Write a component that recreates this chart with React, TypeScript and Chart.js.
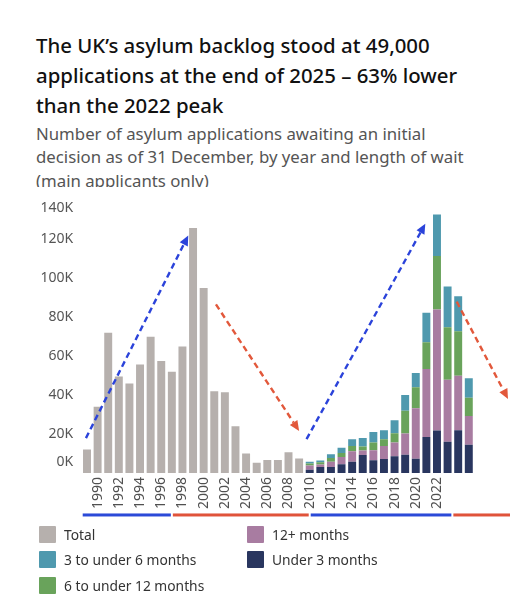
import React, { useEffect, useRef } from "react";
import { Chart, registerables } from "chart.js";

Chart.register(...registerables);

// ---------- DATA ----------
const years = [
  "1989", "1990", "1991", "1992", "1993", "1994", "1995", "1996", "1997", "1998",
  "1999", "2000", "2001", "2002", "2003", "2004", "2005", "2006", "2007", "2008",
  "2009", "2010", "2011", "2012", "2013", "2014", "2015", "2016", "2017", "2018",
  "2019", "2020", "2021", "2022", "2023", "2024", "2025",
];

const xTickLabels = [
  "1990", "1992", "1994", "1996", "1998", "2000", "2002", "2004", "2006", "2008",
  "2010", "2012", "2014", "2016", "2018", "2020", "2022",
];

const yTickValues = [0, 20000, 40000, 60000, 80000, 100000, 120000, 140000];
const yTickLabels = ["0K", "20K", "40K", "60K", "80K", "100K", "120K", "140K"];

// Total backlog, 1989-2009 (no breakdown by length of wait)
const totalYears = years.slice(0, 21);
const totalValues = [
  12000, 34000, 72000, 49500, 46000, 55700, 70000, 57500, 52000, 65000,
  125800, 95000, 42000, 41400, 24000, 10000, 5300, 6700, 6700, 10700, 7400,
];

// Breakdown by length of wait, 2010-2025
const breakdownYears = years.slice(21);
const under3Values = [1700, 3100, 3100, 4500, 5800, 9200, 6500, 7200, 8600, 9300, 7300, 18500, 21800, 16000, 21900, 14500];
const months12PlusValues = [2200, 1200, 2600, 3700, 5400, 2300, 5200, 6600, 7000, 11000, 25900, 34900, 62200, 31900, 28000, 14800];
const months6to12Values = [900, 1200, 2000, 2100, 2600, 2100, 3900, 3500, 4800, 11600, 10800, 13800, 27400, 27000, 22900, 9300];
const months3to6Values = [900, 900, 1900, 2600, 3500, 4300, 5500, 4700, 6700, 8200, 7400, 15100, 21300, 20900, 18000, 10000];

// Dashed trend arrows (fractional year, value)
const arrows = [
  { x1: 1988.9, y1: 17900, x2: 1998.55, y2: 122000, color: "#2b43da" },
  { x1: 2001.16, y1: 86600, x2: 2009.0, y2: 21600, color: "#e2583b" },
  { x1: 2009.7, y1: 17400, x2: 2020.9, y2: 128000, color: "#2b43da" },
  { x1: 2023.86, y1: 88000, x2: 2028.7, y2: 38000, color: "#e2583b" },
];

// Government periods shown under the axis (fractional year)
const periods = [
  { from: 1988.5, to: 1997.0, color: "#2b4ad8" },
  { from: 1997.0, to: 2010.0, color: "#e0533a" },
  { from: 2010.0, to: 2023.45, color: "#2b4ad8" },
  { from: 2023.45, to: 2030.0, color: "#e0533a" },
];

const COLORS = {
  total: "#b6b0ad",
  under3: "#29365f",
  m12: "#a87ca1",
  m6to12: "#69a35b",
  m3to6: "#4f99ae",
};

const seriesLabels = {
  total: "Total",
  under3: "Under 3 months",
  m12: "12+ months",
  m6to12: "6 to under 12 months",
  m3to6: "3 to under 6 months",
};

const legendLayout: (keyof typeof COLORS)[][] = [
  ["total", "m12"],
  ["m3to6", "under3"],
  ["m6to12"],
];

const FONT = '"Noto Sans", "DejaVu Sans", sans-serif';

function spread(srcYears: string[], values: number[]) {
  return years.map((y) => {
    const i = srcYears.indexOf(y);
    return i >= 0 ? values[i] : null;
  });
}

const overlayPlugin = {
  id: "overlay",
  afterDatasetsDraw(chart: any) {
    const { ctx, chartArea, scales } = chart;
    const xs = scales.x;
    const ys = scales.y;
    const first = Number(years[0]);
    const xPos = (yr: number) => xs.getPixelForValue(yr - first);
    ctx.save();
    // arrows
    for (const a of arrows) {
      const x1 = xPos(a.x1);
      const y1 = ys.getPixelForValue(a.y1);
      const x2 = xPos(a.x2);
      const y2 = ys.getPixelForValue(a.y2);
      const ang = Math.atan2(y2 - y1, x2 - x1);
      const headLen = 10;
      const headW = 4.5;
      const bx = x2 - headLen * Math.cos(ang);
      const by = y2 - headLen * Math.sin(ang);
      ctx.strokeStyle = a.color;
      ctx.fillStyle = a.color;
      ctx.lineWidth = 2.4;
      ctx.setLineDash([6, 4]);
      ctx.beginPath();
      ctx.moveTo(x1, y1);
      ctx.lineTo(bx, by);
      ctx.stroke();
      ctx.setLineDash([]);
      ctx.beginPath();
      ctx.moveTo(x2, y2);
      ctx.lineTo(bx - headW * Math.sin(ang), by + headW * Math.cos(ang));
      ctx.lineTo(bx + headW * Math.sin(ang), by - headW * Math.cos(ang));
      ctx.closePath();
      ctx.fill();
    }
    // period underlines
    for (const p of periods) {
      const a = xPos(p.from);
      const b = xPos(p.to);
      ctx.fillStyle = p.color;
      ctx.fillRect(a + 1, chartArea.bottom + 40.5, b - a - 2, 3);
    }
    // y labels
    ctx.font = `14px ${FONT}`;
    ctx.fillStyle = "#555555";
    ctx.textAlign = "right";
    ctx.textBaseline = "middle";
    yTickValues.forEach((v, i) => {
      let py = ys.getPixelForValue(v);
      py = Math.min(Math.max(py, chartArea.top + 7.5), chartArea.bottom - 11);
      ctx.fillText(yTickLabels[i], chartArea.left - 8.5, py);
    });
    ctx.restore();
  },
};

function ChartCanvas() {
  const ref = useRef<HTMLCanvasElement | null>(null);
  useEffect(() => {
    if (!ref.current) return;
    const common = { barPercentage: 0.75, categoryPercentage: 1, borderWidth: 0 };
    const chart = new Chart(ref.current, {
      type: "bar",
      data: {
        labels: years,
        datasets: [
          { label: seriesLabels.total, data: spread(totalYears, totalValues), backgroundColor: COLORS.total, ...common },
          { label: seriesLabels.under3, data: spread(breakdownYears, under3Values), backgroundColor: COLORS.under3, ...common },
          { label: seriesLabels.m12, data: spread(breakdownYears, months12PlusValues), backgroundColor: COLORS.m12, ...common },
          { label: seriesLabels.m6to12, data: spread(breakdownYears, months6to12Values), backgroundColor: COLORS.m6to12, ...common },
          { label: seriesLabels.m3to6, data: spread(breakdownYears, months3to6Values), backgroundColor: COLORS.m3to6, ...common },
        ],
      },
      options: {
        responsive: false,
        animation: false,
        devicePixelRatio: 1,
        layout: { padding: { left: 81.7, right: 35.9, top: 10.4, bottom: 17 } },
        plugins: { legend: { display: false }, tooltip: { enabled: false } },
        scales: {
          x: {
            stacked: true,
            grid: { display: false, drawTicks: false },
            border: { display: false },
            ticks: {
              autoSkip: false,
              maxRotation: 90,
              minRotation: 90,
              padding: 4,
              color: "#505050",
              font: { family: FONT, size: 14 },
              callback: (_v: any, i: number) => (xTickLabels.includes(years[i]) ? years[i] : ""),
            },
          },
          y: {
            stacked: true,
            display: false,
            min: 0,
            max: 140000,
          },
        },
      },
      plugins: [overlayPlugin],
    } as any);
    return () => chart.destroy();
  }, []);
  return (
    <canvas
      ref={ref}
      width={510}
      height={340}
      style={{ position: "absolute", left: 0, top: 190, width: 510, height: 340 }}
    />
  );
}

export default function App() {
  return (
    <div
      style={{
        position: "absolute",
        left: 0,
        top: 0,
        width: 510,
        height: 600,
        background: "#ffffff",
        fontFamily: FONT,
        overflow: "hidden",
      }}
    >
      <div
        style={{
          position: "absolute",
          left: 36,
          top: 30,
          width: 432,
          fontSize: 20.4,
          lineHeight: "30px",
          fontWeight: 500,
          color: "#111111",
        }}
      >
        The UK’s asylum backlog stood at 49,000 applications at the end of 2025 – 63% lower than the 2022 peak
      </div>
      <div
        style={{
          position: "absolute",
          left: 36,
          top: 121.8,
          width: 440,
          height: 65.2,
          overflow: "hidden",
          fontSize: 16.8,
          lineHeight: "23.5px",
          color: "#555555",
        }}
      >
        Number of asylum applications awaiting an initial decision as of 31 December, by year and length of wait (main applicants only)
      </div>
      <ChartCanvas />
      {legendLayout.map((row, r) =>
        row.map((key, c) => (
          <div
            key={key}
            style={{
              position: "absolute",
              left: c === 0 ? 39 : 247,
              top: 525.5 + r * 25.5,
              height: 17,
              display: "flex",
              alignItems: "center",
              whiteSpace: "nowrap",
            }}
          >
            <span style={{ display: "inline-block", width: 17, height: 17, background: COLORS[key], borderRadius: 1 }} />
            <span style={{ marginLeft: 8, fontSize: 13.8, color: "#333333" }}>{seriesLabels[key]}</span>
          </div>
        ))
      )}
    </div>
  );
}
